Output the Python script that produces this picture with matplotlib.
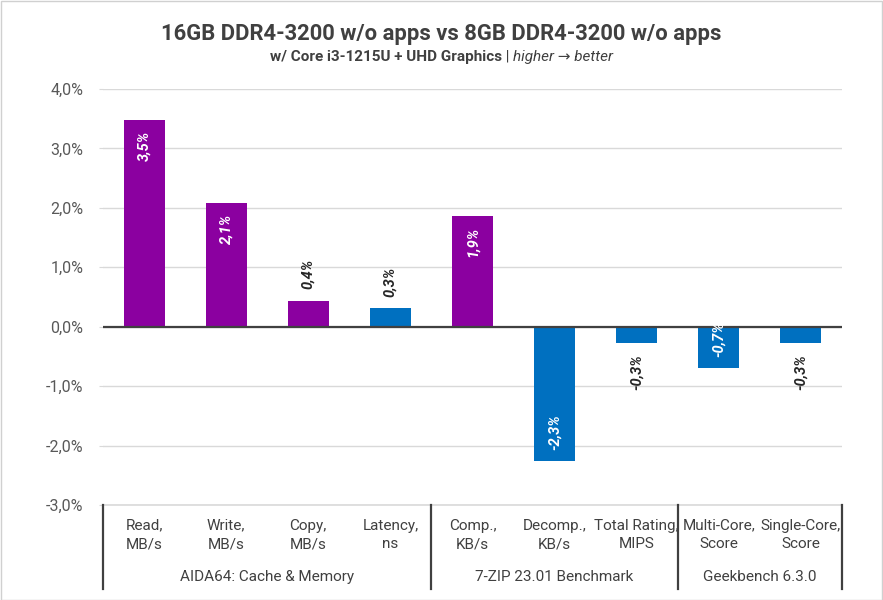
import matplotlib
matplotlib.use("Agg")
import matplotlib.pyplot as plt
from matplotlib.patches import Rectangle
import matplotlib.transforms as mtransforms

plt.rcParams["font.family"] = ["Roboto", "DejaVu Sans"]

categories = ["Read,\nMB/s", "Write,\nMB/s", "Copy,\nMB/s", "Latency,\nns",
              "Comp.,\nKB/s", "Decomp.,\nKB/s", "Total Rating,\nMIPS",
              "Multi-Core,\nScore", "Single-Core,\nScore"]
values = [3.48, 2.08, 0.44, 0.32, 1.87, -2.26, -0.27, -0.70, -0.27]
value_labels = ["3,5%", "2,1%", "0,4%", "0,3%", "1,9%", "-2,3%", "-0,3%", "-0,7%", "-0,3%"]
better = [True, True, True, False, True, False, False, False, False]
label_inside = [True, True, False, False, True, True, False, True, False]
groups = ["AIDA64: Cache & Memory", "7-ZIP 23.01 Benchmark", "Geekbench 6.3.0"]
group_sizes = [4, 3, 2]
yticks = [-3, -2, -1, 0, 1, 2, 3, 4]

purple = "#8B00A0"
blue = "#0070C0"
text_col = "#595959"

W, H = 883, 600
fig = plt.figure(figsize=(W / 100, H / 100), dpi=100)
fig.patch.set_facecolor("white")
fig.add_artist(Rectangle((0.5 / W, 0.5 / H), 1 - 1.5 / W, 1 - 1.5 / H,
                         transform=fig.transFigure, fill=False,
                         edgecolor="#d0d0d0", linewidth=1))

left, right, top, bottom = 103, 842, 89, 505
ax = fig.add_axes([left / W, 1 - bottom / H, (right - left) / W, (bottom - top) / H])

x = list(range(len(categories)))
colors = [purple if b else blue for b in better]
ax.bar(x, values, width=0.5, color=colors, zorder=3)

ax.set_xlim(-0.5, len(categories) - 0.5)
ax.set_ylim(-3, 4)
ax.set_yticks(yticks)
ax.set_yticklabels([f"{t:.1f}%".replace(".", ",") for t in yticks],
                   fontsize=11.5, color=text_col)
ax.grid(axis="y", color="#d9d9d9", linewidth=1, zorder=0)
ax.tick_params(axis="y", length=3, color="#d9d9d9", pad=11)
ax.tick_params(axis="x", length=0, labelbottom=False)
for s in ax.spines.values():
    s.set_visible(False)
ax.axhline(0, color="#404040", linewidth=1.6, zorder=4)

# value labels
for xi, v, lab, inside in zip(x, values, value_labels, label_inside):
    sign = 1 if v >= 0 else -1
    if inside:
        off = -8 * sign
        va = "top" if v >= 0 else "bottom"
        col = "white"
    else:
        off = 8 * sign
        va = "bottom" if v >= 0 else "top"
        col = "#262626"
    ax.annotate(lab, (xi, v), xytext=(0, off), textcoords="offset points",
                rotation=90, ha="center", va=va, fontsize=10.5,
                fontweight="bold", fontstyle="italic", color=col, zorder=5)

# category axis
trans = mtransforms.blended_transform_factory(ax.transData, ax.transAxes)
ax_h = bottom - top
ax.plot([-0.5, len(categories) - 0.5], [0, 0], transform=trans,
        color="#d9d9d9", linewidth=1.2, clip_on=False)
for xi, cat in zip(x, categories):
    ax.text(xi, -30 / ax_h, cat, transform=trans, ha="center", va="center",
            fontsize=11, color="#404040", linespacing=1.45)
start = 0
bounds = [-0.5]
for g, n in zip(groups, group_sizes):
    mid = start + (n - 1) / 2
    ax.text(mid, -72 / ax_h, g, transform=trans, ha="center", va="center",
            fontsize=11, color="#404040")
    start += n
    bounds.append(start - 0.5)
for b in bounds:
    ax.plot([b, b], [0, -84 / ax_h], transform=trans, color="#404040",
            linewidth=1.6, clip_on=False)

# titles
fig.text(0.5, 1 - 34 / H, "16GB DDR4-3200 w/o apps vs 8GB DDR4-3200 w/o apps",
         ha="center", va="center", fontsize=15.8, fontweight="bold", color="#404040")

parts = [("w/ Core i3-1215U + UHD Graphics", "bold", "normal"),
         (" | ", "normal", "normal"),
         ("higher \u2192 better", "normal", "italic")]
texts = []
for s, w, st in parts:
    texts.append(fig.text(0, 1 - 57 / H, s, ha="left", va="center", fontsize=11,
                          fontweight=w, fontstyle=st, color="#404040"))
fig.canvas.draw()
r = fig.canvas.get_renderer()
widths = [t.get_window_extent(r).width for t in texts]
xpos = (W - sum(widths)) / 2
for t, w in zip(texts, widths):
    t.set_x(xpos / W)
    xpos += w

fig.savefig("out.png", dpi=100)
